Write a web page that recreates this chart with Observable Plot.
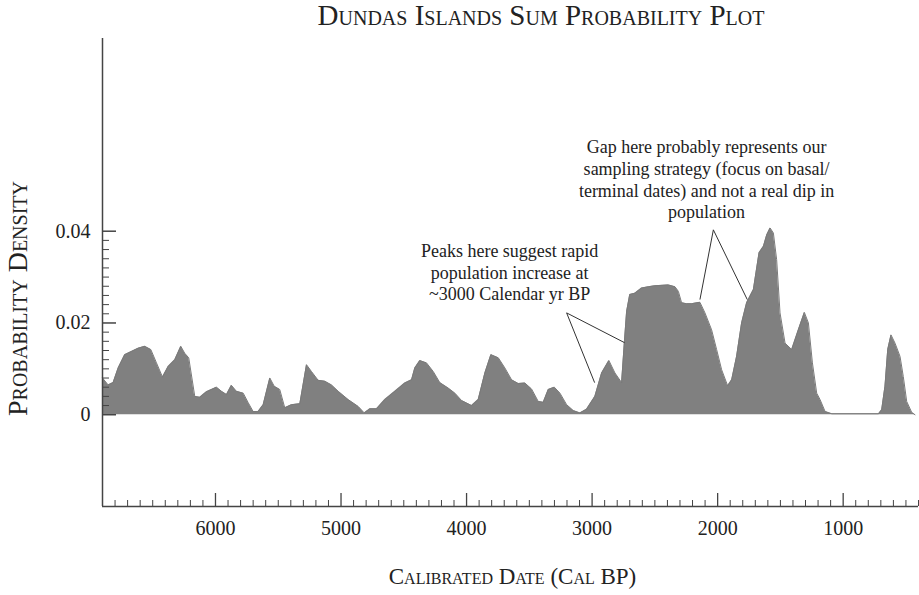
<!DOCTYPE html>
<html>
<head>
<meta charset="utf-8">
<script src="https://cdn.jsdelivr.net/npm/d3@7"></script>
<script src="https://cdn.jsdelivr.net/npm/@observablehq/plot@0.6"></script>
<style>
  body { margin: 0; background: #fff; }
  #wrap { position: relative; width: 919px; height: 595px; overflow: hidden; }
  #title { position: absolute; top: -1px; left: 541px; transform: translateX(-50%); white-space: nowrap;
           font-family: "Liberation Serif", serif; font-variant: small-caps; font-size: 29px; color: #222; }
  #chart { position: absolute; left: 0; top: 0; }
</style>
</head>
<body>
<div id="wrap">
  <div id="chart"></div>
  <div id="title">Dundas Islands Sum Probability Plot</div>
</div>
<script>
// ---- data (calibrated years BP, summed probability density) ----
const years = [6900,6855,6815,6775,6723,6669,6616,6563,6515,6470,6422,6377,6324,6276,6245,6213,6165,6125,6072,5992,
  5952,5912,5873,5833,5779,5739,5700,5660,5620,5567,5532,5488,5448,5394,5328,5275,5235,5182,5129,5076,
  5022,4943,4863,4815,4770,4717,4651,4571,4492,4438,4412,4372,4319,4265,4213,4146,4093,4040,3960,3907,
  3854,3806,3747,3695,3641,3588,3535,3482,3429,3389,3349,3301,3256,3203,3150,3097,3044,2978,2924,2866,
  2818,2765,2745,2725,2700,2659,2606,2550,2500,2440,2393,2340,2313,2287,2247,2207,2141,2101,2048,2008,
  1968,1920,1888,1849,1809,1769,1715,1670,1635,1609,1582,1556,1530,1503,1463,1410,1357,1309,1277,1245,
  1211,1184,1144,1090,718,693,667,645,619,587,547,521,494,454,428];
const density = [0.0080,0.0065,0.0070,0.0102,0.0131,0.0138,0.0145,0.0149,0.0142,0.0113,0.0082,0.0105,0.0120,0.0149,0.0134,0.0124,0.0040,0.0038,0.0050,0.0060,
  0.0051,0.0044,0.0064,0.0051,0.0047,0.0026,0.0007,0.0007,0.0022,0.0080,0.0062,0.0055,0.0015,0.0022,0.0024,0.0109,0.0094,0.0075,0.0073,0.0065,
  0.0051,0.0033,0.0018,0.0004,0.0013,0.0013,0.0033,0.0051,0.0069,0.0076,0.0102,0.0118,0.0113,0.0094,0.0070,0.0058,0.0047,0.0031,0.0020,0.0033,
  0.0091,0.0131,0.0124,0.0102,0.0076,0.0068,0.0069,0.0056,0.0029,0.0027,0.0055,0.0060,0.0047,0.0022,0.0009,0.0004,0.0012,0.0040,0.0091,0.0118,
  0.0091,0.0070,0.0150,0.0225,0.0262,0.0265,0.0276,0.0279,0.0281,0.0282,0.0283,0.0279,0.0269,0.0244,0.0242,0.0242,0.0245,0.0222,0.0185,0.0142,
  0.0098,0.0063,0.0076,0.0127,0.0200,0.0244,0.0273,0.0353,0.0367,0.0392,0.0407,0.0396,0.0338,0.0222,0.0156,0.0142,0.0185,0.0223,0.0200,0.0113,
  0.0047,0.0033,0.0007,0.0002,0.0002,0.0011,0.0062,0.0142,0.0174,0.0156,0.0127,0.0083,0.0029,0.0005,0.0000];

// ---- axes ----
const xDomain = [6900, 400];
const yDomain = [-0.02, 0.082];
const xMajorTicks = [6000, 5000, 4000, 3000, 2000, 1000];
const xMinorTicks = d3.range(400, 6900, 100).filter(d => !xMajorTicks.includes(d));
const yMajorTicks = [0, 0.02, 0.04];
const yTickLabels = ["0", "0.02", "0.04"];
const yMinorTicks = d3.range(1, 20).filter(i => i !== 10).map(i => i * 0.002);

// ---- annotations ----
const noteText = [
  "Peaks here suggest rapid\npopulation increase at\n~3000 Calendar yr BP",
  "Gap here probably represents our\nsampling strategy (focus on basal/\nterminal dates) and not a real dip in\npopulation"
];
const noteX = [3657, 2088];
const noteY = [0.0312, 0.0514];
const leaderX1 = [3203, 3203, 2034, 2034];
const leaderY1 = [0.0222, 0.0222, 0.0403, 0.0403];
const leaderX2 = [2980, 2741, 2141, 1764];
const leaderY2 = [0.0070, 0.0157, 0.0251, 0.0251];

const series = years.map((y, i) => ({year: y, density: density[i]}));
const notes = noteText.map((t, i) => ({text: t, x: noteX[i], y: noteY[i]}));
const leaders = leaderX1.map((x, i) => ({x1: x, y1: leaderY1[i], x2: leaderX2[i], y2: leaderY2[i]}));

const W = 919, H = 595, mL = 102, mR = 1, mT = 38, mB = 89;
const frameW = W - mL - mR, frameH = H - mT - mB;
const ink = "#222";
const axisInk = "#444";

const chart = Plot.plot({
  width: W, height: H,
  marginLeft: mL, marginRight: mR, marginTop: mT, marginBottom: mB,
  style: {fontFamily: "Liberation Serif, serif", color: ink, background: "#fff"},
  x: {domain: xDomain, axis: null},
  y: {domain: yDomain, axis: null},
  marks: [
    Plot.areaY(series, {x: "year", y: "density", fill: "#808080"}),
    Plot.lineY(series, {x: "year", y: "density", stroke: "#7a7a7a", strokeWidth: 1}),
    // axis lines
    Plot.ruleX([xDomain[0]], {stroke: axisInk, strokeWidth: 1.5}),
    Plot.ruleY([yDomain[0]], {stroke: axisInk, strokeWidth: 1.5}),
    // x ticks (inward)
    Plot.tickX(xMinorTicks, {x: d => d, insetTop: frameH - 6, stroke: axisInk, strokeWidth: 1}),
    Plot.tickX(xMajorTicks, {x: d => d, insetTop: frameH - 13, stroke: axisInk, strokeWidth: 1.3}),
    // y ticks (inward)
    Plot.tickY(yMinorTicks, {y: d => d, insetRight: frameW - 7, stroke: axisInk, strokeWidth: 1}),
    Plot.tickY(yMajorTicks, {y: d => d, insetRight: frameW - 14, stroke: axisInk, strokeWidth: 1.5}),
    // tick labels
    Plot.text(xMajorTicks, {x: d => d, frameAnchor: "bottom", dy: 28, text: d => String(d), fontSize: 20, fill: ink}),
    Plot.text(yMajorTicks, {y: d => d, frameAnchor: "left", dx: -12, textAnchor: "end", text: (d, i) => yTickLabels[i], fontSize: 20, fill: ink}),
    // axis titles
    Plot.text(["Calibrated Date (Cal BP)"], {frameAnchor: "bottom", dx: 2, dy: 77, text: d => d, fontSize: 23, fontVariant: "small-caps", fill: ink}),
    Plot.text(["Probability Density"], {frameAnchor: "left", textAnchor: "middle", dx: -84, dy: 26, rotate: -90, text: d => d, fontSize: 28, fontVariant: "small-caps", fill: ink}),
    // annotations
    Plot.link(leaders, {x1: "x1", y1: "y1", x2: "x2", y2: "y2", stroke: "#333", strokeWidth: 1}),
    Plot.text(notes, {x: "x", y: "y", text: "text", fontSize: 18, lineHeight: 1.2, textAnchor: "middle", fill: ink})
  ]
});
document.getElementById("chart").appendChild(chart);
</script>
</body>
</html>
